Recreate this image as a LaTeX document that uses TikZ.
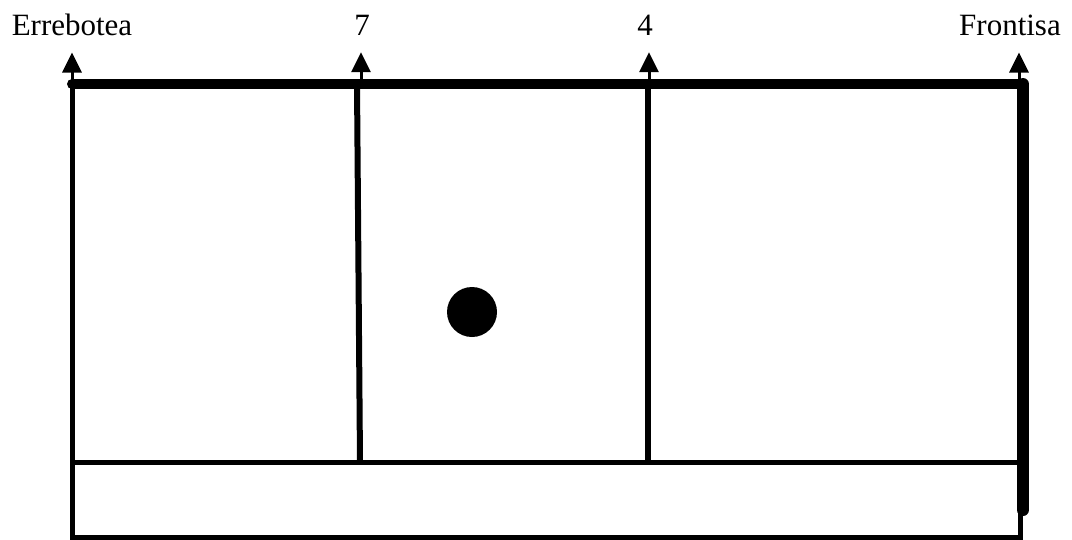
\documentclass[tikz,border=0pt]{standalone}
\usepackage{fontspec}
\setmainfont{Liberation Serif}
\usetikzlibrary{arrows.meta}
\tikzset{
  wall/.style={line width=5pt},
  linewall/.style={line width=6pt},
  thickwall/.style={line width=10pt, line cap=round},
  frontwall/.style={line width=12pt, line cap=round},
  upar/.style={-{Triangle[length=20pt,width=19pt]}, line width=3pt, shorten >=17pt},
  lbl/.style={font=\fontsize{31}{37}\selectfont, inner sep=0pt, anchor=base},
  ball/.style={fill=black, circle, minimum size=50pt, inner sep=0pt}
}

\begin{document}
\begin{tikzpicture}[x=1pt, y=-1pt]
\useasboundingbox (0,0) rectangle (1072,539);
% court corners
\coordinate (tl) at (72,84);
\coordinate (tr) at (1023,84);
\coordinate (bl) at (72,537);
\coordinate (br) at (1020,537);
\coordinate (ml) at (72,462);
\coordinate (mr) at (1020,462);
\coordinate (fe) at (1023,510);
% line feet on the top wall
\coordinate (p7) at (357,84);
\coordinate (p4) at (648,84);
\coordinate (q7) at (360,462);
\coordinate (q4) at (648,462);
% arrow feet
\coordinate (a7) at (361,84);
\coordinate (a4) at (649,84);
\coordinate (aF) at (1019,84);
% labels
\node[lbl] (erre) at (72,35) {Errebotea};
\node[lbl] (seven) at (362,35) {7};
\node[lbl] (four) at (645,35) {4};
\node[lbl] (front) at (1010,35) {Frontisa};
% court
\draw[wall] (tl) -- (bl) -- (br) -- (mr);
\draw[wall] (ml) -- (mr);
\draw[linewall] (p7) -- (q7);
\draw[linewall] (p4) -- (q4);
\draw[frontwall] (tr) -- (fe);
\draw[thickwall] (tl) -- (tr);
% arrows
\draw[upar] (tl) -- (tl |- erre.south);
\draw[upar] (a7) -- (a7 |- seven.south);
\draw[upar] (a4) -- (a4 |- four.south);
\draw[upar] (aF) -- (aF |- front.south);
% ball
\node[ball] (pilota) at (472,312) {};
\end{tikzpicture}
\end{document}
